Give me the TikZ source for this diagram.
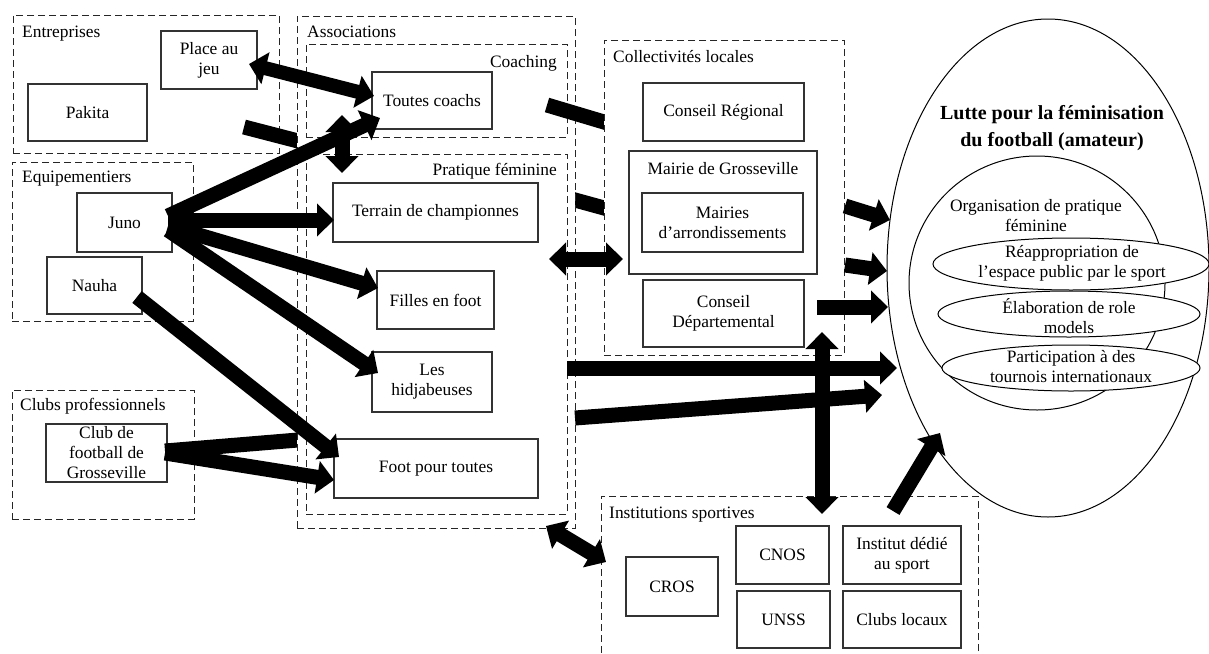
\documentclass[tikz,border=0pt]{standalone}
\usepackage{fontspec}
\setmainfont{Liberation Serif}
\usetikzlibrary{arrows.meta,shapes.geometric}
\begin{document}
\begin{tikzpicture}[x=1pt,y=-1pt,
  font=\fontsize{17.4}{20}\selectfont,
  grp/.style={draw=black!85, dash pattern=on 7pt off 4pt, line width=1pt, fill=white, inner sep=0, rectangle},
  box/.style={draw=black!80, line width=1.2pt, fill=white, inner sep=0, align=center, rectangle},
  oval/.style={draw=black, line width=1pt, ellipse, inner sep=0},
  blk/.style={line width=15pt, -{Triangle[width=32pt,length=17pt]}},
  dblk/.style={line width=15pt, {Triangle[width=32pt,length=17pt]}-{Triangle[width=32pt,length=17pt]}},
  stub/.style={line width=15pt},
  lbl/.style={inner sep=0, anchor=base west},
  rlbl/.style={inner sep=0, anchor=base east},
  txt/.style={inner sep=0, align=center}]
\useasboundingbox[fill=white] (0,0) rectangle (1209,653);

% left groups
\node[grp, minimum width=266pt, minimum height=138pt] (entr) at (146,84) {};
\node[grp, minimum width=181pt, minimum height=159pt] (equip) at (102.5,241.5) {};
\node[grp, minimum width=182pt, minimum height=129pt] (clubs) at (103,454.5) {};
\node[lbl] (lentr) at (22,37) {Entreprises};
\node[lbl] (lequip) at (22,182) {Equipementiers};
\node[lbl] (lclubs) at (20,410) {Clubs professionnels};
\node[box, minimum width=96pt, minimum height=58pt] (place) at (209,60) {Place au\\jeu};
\node[box, minimum width=119pt, minimum height=57pt] (pakita) at (87.5,112.5) {Pakita};
\node[box, minimum width=95pt, minimum height=59pt] (juno) at (124.5,222.5) {Juno};
\node[box, minimum width=95pt, minimum height=57pt] (nauha) at (94.5,285.5) {Nauha};
\node[box, minimum width=121pt, minimum height=58pt] (club) at (106.5,453) {Club de\\football de\\Grosseville};

% hidden stubs
\coordinate (pk1) at (244,127); \coordinate (pk2) at (310,144.1);
\coordinate (k11) at (165,451); \coordinate (k12) at (310,439);
\coordinate (c1) at (560,195.9); \coordinate (c2) at (615,211);
\draw[stub] (pk1) -- (pk2);
\draw[stub] (k11) -- (k12);
\draw[stub] (c1) -- (c2);

% associations
\node[grp, minimum width=278pt, minimum height=512pt] (assoc) at (436,272) {};
\node[grp, minimum width=261pt, minimum height=93pt] (coach) at (436.5,90.5) {};
\node[grp, minimum width=261pt, minimum height=360pt] (prat) at (436.5,334) {};
\node[lbl] (lassoc) at (307,37) {Associations};
\node[rlbl] (lcoach) at (557,67) {Coaching};
\node[rlbl] (lprat) at (557,175) {Pratique féminine};

% stub B
\coordinate (b1) at (547,105); \coordinate (b2) at (615,125.3);
\draw[stub] (b1) -- (b2);

% collectivites
\node[grp, minimum width=240pt, minimum height=315pt] (coll) at (724,197.5) {};
\node[lbl] (lcoll) at (613,62) {Collectivités locales};
\node[box, minimum width=161pt, minimum height=58pt] (creg) at (723.5,112) {Conseil Régional};
\node[box, minimum width=188pt, minimum height=123pt] (mairie) at (723,212.5) {};
\node[txt] (lmairie) at (723,169) {Mairie de Grosseville};
\node[box, minimum width=161pt, minimum height=59pt] (marr) at (722.5,222.5) {Mairies\\d’arrondissements};
\node[box, minimum width=161pt, minimum height=67pt] (cdep) at (723.5,313.5) {Conseil\\Départemental};

% institutions
\node[grp, minimum width=377pt, minimum height=174pt] (inst) at (789.5,583) {};
\node[lbl] (linst) at (609,518) {Institutions sportives};
\node[box, minimum width=92pt, minimum height=59pt] (cros) at (672,586.5) {CROS};
\node[box, minimum width=93pt, minimum height=58pt] (cnos) at (782.5,555) {CNOS};
\node[box, minimum width=93pt, minimum height=57pt] (unss) at (783.5,619.5) {UNSS};
\node[box, minimum width=118pt, minimum height=58pt] (idsport) at (902,555) {Institut dédié\\au sport};
\node[box, minimum width=118pt, minimum height=57pt] (cloc) at (902,619.5) {Clubs locaux};

% association boxes
\node[box, minimum width=120pt, minimum height=57pt] (toutes) at (432,100.5) {Toutes coachs};
\node[box, minimum width=205pt, minimum height=59pt] (terrain) at (435.5,212.5) {Terrain de championnes};
\node[box, minimum width=117pt, minimum height=58pt] (filles) at (435.5,300) {Filles en foot};
\node[box, minimum width=120pt, minimum height=60pt] (hidja) at (432,382) {Les\\hidjabeuses};
\node[box, minimum width=204pt, minimum height=59pt] (foot) at (436,468.5) {Foot pour toutes};

% goal ellipses
\node[oval, minimum width=322pt, minimum height=498pt] (goal) at (1048,268) {};
\node[oval, minimum width=256pt, minimum height=254pt] (org) at (1037,283) {};
\node[oval, fill=white, minimum width=276pt, minimum height=52pt] (ea) at (1071,264) {};
\node[oval, fill=white, minimum width=262pt, minimum height=46pt] (eb) at (1069,314) {};
\node[oval, fill=white, minimum width=258pt, minimum height=46pt] (ec) at (1071,368) {};
\node[txt, font=\fontsize{20}{27}\selectfont\bfseries] (title) at (1052,128) {Lutte pour la féminisation\\du football (amateur)};
\node[txt] (torg) at (1036,216) {Organisation de pratique\\féminine};
\node[txt] (tea) at (1072,263) {Réappropriation de\\l’espace public par le sport};
\node[txt] (teb) at (1069,316) {Élaboration de role\\models};
\node[txt] (tec) at (1071,367) {Participation à des\\tournois internationaux};

% visible arrows
\coordinate (pj1) at (249,64); \coordinate (pj2) at (374,96);
\draw[dblk, line width=14pt] (pj1) -- (pj2);
\coordinate (j0a) at (168,216); \coordinate (j0b) at (168,220);
\coordinate (j0c) at (168,226); \coordinate (j0d) at (168,230);
\coordinate (j1) at (380,118); \coordinate (j2) at (334,220);
\coordinate (j3) at (378,288); \coordinate (j4) at (378,373);
\draw[blk] (j0a) -- (j1);
\draw[blk] (j0b) -- (j2);
\draw[blk] (j0c) -- (j3);
\draw[blk] (j0d) -- (j4);
\coordinate (n1) at (137,297); \coordinate (n2) at (339,457);
\draw[blk] (n1) -- (n2);
\coordinate (k21) at (165,453); \coordinate (k22) at (334,480);
\draw[blk] (k21) -- (k22);
\coordinate (v1) at (342,115); \coordinate (v2) at (342,173);
\draw[dblk] (v1) -- (v2);
\coordinate (d1) at (549,259); \coordinate (d2) at (623,259);
\draw[dblk] (d1) -- (d2);
\coordinate (e11) at (845,206); \coordinate (e12) at (890,220);
\coordinate (e21) at (845,265); \coordinate (e22) at (887,271);
\coordinate (e31) at (817,307); \coordinate (e32) at (888,307);
\draw[blk] (e11) -- (e12);
\draw[blk] (e21) -- (e22);
\draw[blk] (e31) -- (e32);
\coordinate (f11) at (567,368); \coordinate (f12) at (897,368);
\coordinate (f21) at (575,418); \coordinate (f22) at (882,395);
\draw[blk] (f11) -- (f12);
\draw[blk] (f21) -- (f22);
\coordinate (g1) at (822,332); \coordinate (g2) at (822,514);
\draw[dblk] (g1) -- (g2);
\coordinate (h1) at (893,511); \coordinate (h2) at (940,433);
\draw[blk] (h1) -- (h2);
\coordinate (i1) at (546,526); \coordinate (i2) at (606,562);
\draw[dblk] (i1) -- (i2);
\end{tikzpicture}
\end{document}
